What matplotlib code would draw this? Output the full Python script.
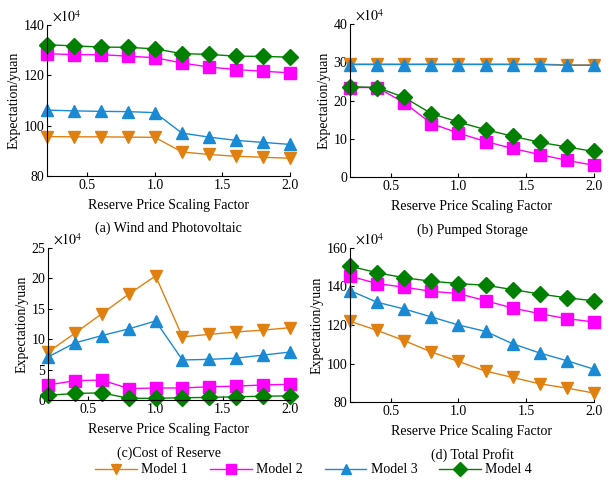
import numpy as np
import matplotlib
matplotlib.use("Agg")
import matplotlib.pyplot as plt

plt.rcParams['font.family'] = ['Liberation Serif', 'DejaVu Serif']
plt.rcParams['mathtext.fontset'] = 'stix'

x = [0.2, 0.4, 0.6, 0.8, 1.0, 1.2, 1.4, 1.6, 1.8, 2.0]  # reserve price scaling factor

# (a) wind and photovoltaic, x10^4 yuan
wind_m1 = [95.7, 95.6, 95.6, 95.5, 95.4, 89.6, 88.6, 87.9, 87.5, 87.1]
wind_m2 = [128.6, 128.2, 128.2, 127.6, 127.0, 124.9, 123.3, 122.3, 121.6, 121.0]
wind_m3 = [106.2, 105.9, 105.7, 105.6, 105.2, 97.1, 95.5, 94.2, 93.4, 92.6]
wind_m4 = [132.1, 131.7, 131.2, 131.1, 130.5, 128.6, 128.3, 127.6, 127.5, 127.2]

# (b) pumped storage
ps_m1 = [29.5, 29.5, 29.5, 29.5, 29.5, 29.5, 29.5, 29.5, 29.3, 29.3]
ps_m2 = [23.4, 23.4, 19.4, 14.0, 11.5, 9.3, 7.5, 5.9, 4.4, 3.1]
ps_m3 = [29.4, 29.4, 29.4, 29.4, 29.4, 29.4, 29.4, 29.4, 29.2, 29.2]
ps_m4 = [23.6, 23.4, 20.8, 16.6, 14.4, 12.4, 10.7, 9.1, 7.9, 6.7]

# (c) cost of reserve
cost_m1 = [7.9, 11.0, 14.2, 17.4, 20.4, 10.4, 10.8, 11.2, 11.5, 11.9]
cost_m2 = [2.5, 3.2, 3.3, 1.9, 2.0, 2.0, 2.2, 2.3, 2.5, 2.6]
cost_m3 = [7.1, 9.4, 10.6, 11.7, 13.0, 6.6, 6.7, 6.9, 7.4, 7.9]
cost_m4 = [0.8, 1.1, 1.2, 0.3, 0.3, 0.4, 0.45, 0.55, 0.65, 0.7]

# (d) total profit
tot_m1 = [121.9, 117.2, 111.9, 106.0, 101.1, 96.1, 92.8, 89.5, 87.3, 84.7]
tot_m2 = [145.3, 141.5, 139.6, 137.5, 136.3, 132.6, 128.8, 125.9, 123.3, 121.6]
tot_m3 = [137.8, 131.8, 128.3, 124.2, 120.0, 116.7, 110.3, 105.5, 101.5, 97.1]
tot_m4 = [150.5, 147.1, 144.5, 142.7, 141.5, 140.6, 138.4, 136.1, 134.1, 132.6]

models = ["Model 1", "Model 2", "Model 3", "Model 4"]
colors = ["#E08010", "#FF00FF", "#1A8AD4", "#008000"]
markers = ["v", "s", "^", "D"]

panels = [
    ([wind_m1, wind_m2, wind_m3, wind_m4], (80, 140), [80, 100, 120, 140], "(a) Wind and Photovoltaic"),
    ([ps_m1, ps_m2, ps_m3, ps_m4], (0, 40), [0, 10, 20, 30, 40], "(b) Pumped Storage"),
    ([cost_m1, cost_m2, cost_m3, cost_m4], (0, 25), [0, 5, 10, 15, 20, 25], "(c)Cost of Reserve"),
    ([tot_m1, tot_m2, tot_m3, tot_m4], (80, 160), [80, 100, 120, 140, 160], "(d) Total Profit"),
]

rects = [
    [0.077, 0.639, 0.399, 0.310],
    [0.575, 0.637, 0.400, 0.314],
    [0.079, 0.180, 0.397, 0.312],
    [0.575, 0.176, 0.400, 0.316],
]

fig = plt.figure(figsize=(6.09, 4.88), dpi=100)
handles = []
for (series, ylim, yticks, title), rect in zip(panels, rects):
    ax = fig.add_axes(rect)
    handles = []
    for ys, c, m, lab in zip(series, colors, markers, models):
        h, = ax.plot(x, ys, color=c, marker=m, markersize=8.5, linewidth=1.0, label=lab, clip_on=False)
        handles.append(h)
    ax.set_xlim(0.2, 2.0)
    ax.set_ylim(*ylim)
    ax.set_xticks([0.5, 1.0, 1.5, 2.0])
    ax.set_xticklabels(["0.5", "1.0", "1.5", "2.0"])
    ax.set_yticks(yticks)
    ax.spines["top"].set_visible(False)
    ax.spines["right"].set_visible(False)
    ax.tick_params(direction="in", labelsize=10, length=3, pad=2)
    ax.set_xlabel("Reserve Price Scaling Factor", fontsize=10, labelpad=5)
    ax.set_ylabel("Expectation/yuan", fontsize=10, labelpad=2)
    ax.text(0.02, 1.0, r"$\times10^4$", transform=ax.transAxes, fontsize=10, va="bottom", ha="left")
    ax.text(0.5, -0.345, title, transform=ax.transAxes, fontsize=10, ha="center", va="center")

fig.legend(handles, models, loc="center", ncol=4, frameon=False, fontsize=10,
           bbox_to_anchor=(0.515, 0.037), handlelength=3.0, handletextpad=0.3,
           columnspacing=1.6, markerscale=0.85)

fig.savefig("out.png", dpi=100)
